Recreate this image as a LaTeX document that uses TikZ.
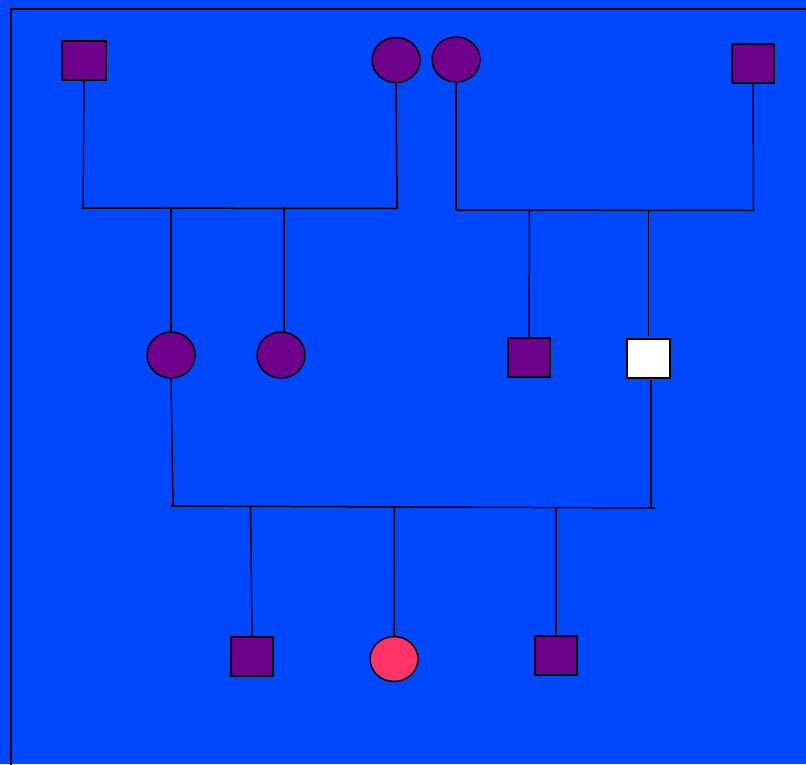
\documentclass[tikz,border=0pt]{standalone}
\definecolor{bg}{HTML}{0048FF}
\definecolor{purp}{HTML}{6E008C}
\definecolor{pinkc}{HTML}{FF3366}
\begin{document}
\begin{tikzpicture}[x=1pt,y=-1pt,
  male/.style={draw=black,line width=1.5pt,fill=purp,minimum width=42pt,minimum height=39pt,inner sep=0pt,rectangle},
  female/.style={draw=black,line width=1.5pt,fill=purp,ellipse,minimum width=48pt,minimum height=45pt,inner sep=0pt},
  link/.style={draw=black,line width=1.5pt}]
\usetikzlibrary{shapes.geometric}
\fill[bg] (0,0) rectangle (806,764);
\useasboundingbox (0,0) rectangle (806,764);
\draw[line width=2pt] (10.5,766) -- (10.5,8.5) -- (808,8.5);
% generation 1
\node[male,minimum width=44pt] (gf1) at (84,60.5) {};
\node[female] (gm1) at (396,60) {};
\node[female] (gm2) at (456,59.5) {};
\node[male] (gf2) at (753,63.5) {};
% generation 2
\node[female,minimum height=46pt] (m) at (171,355) {};
\node[female,minimum height=46pt] (aunt) at (281,355) {};
\node[male] (uncle) at (529,357.5) {};
\node[male,fill=white,minimum width=43pt] (f) at (648.5,358.5) {};
% generation 3
\node[male] (c1) at (252,656.5) {};
\node[female,fill=pinkc] (c2) at (394,659) {};
\node[male] (c3) at (556,655.5) {};
% bars
\coordinate (b1l) at (82,208);
\coordinate (b1r) at (397,208.5);
\coordinate (b2l) at (456,210);
\coordinate (b2r) at (753.5,210.5);
\coordinate (b3l) at (171,506);
\coordinate (b3r) at (655,508);
\draw[link] (gf1.south) -- (83,208);
\draw[link] (b1l) -- (b1r);
\draw[link] (gm1.south) -- (b1r);
\draw[link] (gm2.south) -- (b2l);
\draw[link] (b2l) -- (b2r);
\draw[link] (gf2.south) -- (b2r);
\draw[link] (171,208) -- (m.north);
\draw[link] (284,207) -- (284,332);
\draw[link] (529.5,210) -- (uncle.north);
\draw[link] (648.5,210) -- (648.5,336);
\draw[link] (m.south) -- (173,506);
\draw[link] (b3l) -- (b3r);
\draw[link] (651,380) -- (651,508);
\draw[link] (250.5,507) -- (c1.north);
\draw[link] (394.5,507) -- (c2.north);
\draw[link] (556,508) -- (556,634);
\end{tikzpicture}
\end{document}
